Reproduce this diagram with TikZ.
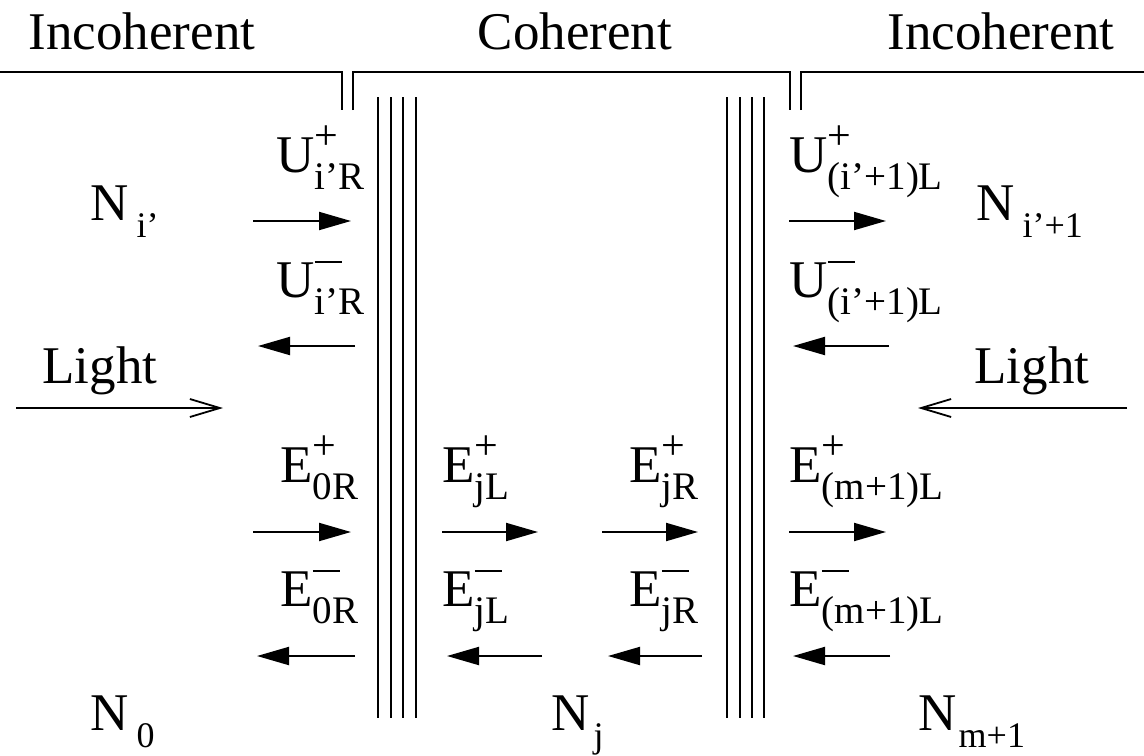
\documentclass[tikz,border=0pt]{standalone}
\usepackage{fontspec}
\setmainfont{Liberation Serif}
\usetikzlibrary{arrows.meta}
\newcommand\subf{\fontsize{19.5}{19.5}\selectfont}
\newcommand\nsubf{\fontsize{18}{18}\selectfont}
\newcommand\Lsup[3]{#1\rlap{#2}\raisebox{-8.5pt}{\subf #3}}
\newcommand\Lp{\raisebox{11.5pt}{\fontsize{21}{21}\selectfont +}}
\newcommand\Lm{\rule[17pt]{13.5pt}{1pt}}
\newcommand\Nlab[2]{N\hspace{#1}\raisebox{-8.5pt}{\nsubf #2}}
\newcommand\harr[5]{\coordinate (#1a) at (#2,#4); \coordinate (#1b) at (#3,#4); \draw[#5] (#1a) -- (#1b);}
\begin{document}
\begin{tikzpicture}[x=0.5pt,y=-0.5pt,
  font=\fontsize{26.5}{30}\selectfont,
  lab/.style={anchor=base west,inner sep=0pt},
  ttl/.style={anchor=base,inner sep=0pt},
  fa/.style={line width=1pt,-{Triangle[length=16pt,width=9pt]}},
  la/.style={line width=0.9pt,-{Straight Barb[length=15pt,width=9pt]}},
  ln/.style={line width=1pt}]
\useasboundingbox (0,0) rectangle (1144,755);
% titles
\node[ttl] (inl) at (142,49) {Incoherent};
\node[ttl] (coh) at (575,49) {Coherent};
\node[ttl] (inr) at (1001,49) {Incoherent};
% brackets
\draw[ln] (0,72) -- (342,72) -- (342,110);
\draw[ln] (353,110) -- (353,72) -- (790,72) -- (790,110);
\draw[ln] (801,110) -- (801,72) -- (1144,72);
% layers
\foreach \x in {378,391,403,416,727,740,752,764}
  \draw[ln] (\x,97) -- (\x,718);
% N labels
\node[lab] (ni) at (90,220) {\Nlab{4pt}{i'}};
\node[lab] (nip) at (976,220) {\Nlab{4pt}{i'+1}};
\node[lab] (n0) at (90,730) {\Nlab{4pt}{0}};
\node[lab] (nj) at (551,730) {\Nlab{2pt}{j}};
\node[lab] (nm) at (918,730) {\Nlab{1pt}{m+1}};
% Light
\node[ttl] (lightl) at (100,383) {Light};
\node[ttl] (lightr) at (1032,383) {Light};
% U labels
\node[lab] (uplus) at (276,172) {\Lsup{U}{\Lp}{i'R}};
\node[lab] (uminus) at (276,297) {\Lsup{U}{\Lm}{i'R}};
\node[lab] (upl) at (789,172) {\Lsup{U}{\Lp}{(i'+1)L}};
\node[lab] (uml) at (789,297) {\Lsup{U}{\Lm}{(i'+1)L}};
% E labels
\node[lab] (e0p) at (280,482) {\Lsup{E}{\Lp}{0R}};
\node[lab] (e0m) at (280,606) {\Lsup{E}{\Lm}{0R}};
\node[lab] (ejlp) at (442,482) {\Lsup{E}{\Lp}{jL}};
\node[lab] (ejlm) at (442,606) {\Lsup{E}{\Lm}{jL}};
\node[lab] (ejrp) at (629,482) {\Lsup{E}{\Lp}{jR}};
\node[lab] (ejrm) at (629,606) {\Lsup{E}{\Lm}{jR}};
\node[lab] (emp) at (789,482) {\Lsup{E}{\Lp}{(m+1)L}};
\node[lab] (emm) at (789,606) {\Lsup{E}{\Lm}{(m+1)L}};
% arrows
\harr{u1}{253}{351}{221}{fa}
\harr{u2}{355}{258}{346}{fa}
\harr{u3}{789}{886}{221}{fa}
\harr{u4}{889}{793}{346}{fa}
\harr{l1}{16}{223}{408}{la}
\harr{l2}{1127}{918}{408}{la}
\harr{e1}{253}{351}{532}{fa}
\harr{e2}{355}{257}{656}{fa}
\harr{e3}{442}{538}{532}{fa}
\harr{e4}{542}{447}{656}{fa}
\harr{e5}{602}{698}{532}{fa}
\harr{e6}{702}{608}{656}{fa}
\harr{e7}{789}{886}{532}{fa}
\harr{e8}{890}{793}{656}{fa}
\end{tikzpicture}
\end{document}
